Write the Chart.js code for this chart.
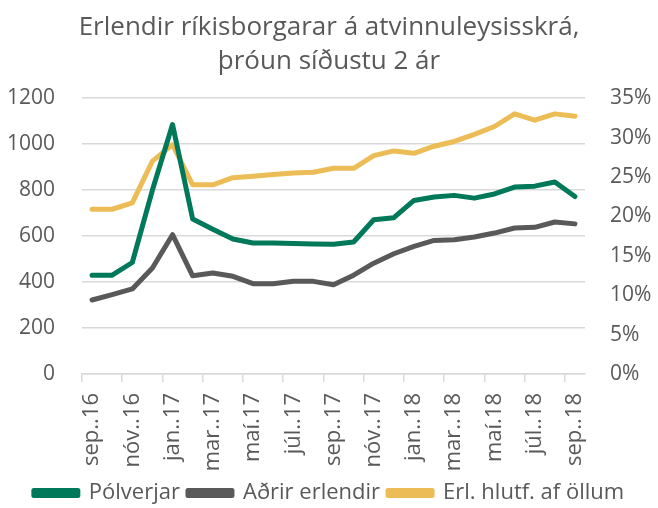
<!DOCTYPE html>
<html>
<head>
<meta charset="utf-8">
<script src="https://cdn.jsdelivr.net/npm/chart.js@4"></script>
<style>
  html, body { margin: 0; padding: 0; background: #fff; }
  #wrap { width: 658px; height: 508px; }
</style>
</head>
<body>
<div id="wrap"><canvas id="atvChart"></canvas></div>
<script>
// Months, sep 2016 - sep 2018 (only every other one gets a label)
var months = [
  "sep..16", "okt..16", "nóv..16", "des..16", "jan..17", "feb..17", "mar..17", "apr..17",
  "maí.17", "jún..17", "júl..17", "ágú..17", "sep..17", "okt..17", "nóv..17", "des..17",
  "jan..18", "feb..18", "mar..18", "apr..18", "maí.18", "jún..18", "júl..18", "ágú..18", "sep..18"
];
var polverjar = [430, 430, 485, 800, 1085, 674, 630, 587, 570, 570, 568, 566, 564,
                 574, 671, 680, 755, 770, 777, 765, 783, 813, 817, 835, 772];
var adrir = [322, 345, 370, 461, 606, 427, 439, 425, 393, 393, 403, 403, 388,
             430, 482, 523, 555, 581, 584, 596, 613, 635, 638, 661, 653];
var hlutfall = [20.9, 20.9, 21.7, 27.0, 29.1, 24.0, 24.0, 24.9, 25.1, 25.3, 25.5, 25.6, 26.1,
                26.1, 27.7, 28.3, 28.0, 28.9, 29.5, 30.4, 31.4, 33.0, 32.2, 33.0, 32.7];

var textColor = '#595959';
var gridColor = '#d9d9d9';
var fontFamily = '"Open Sans", "Noto Sans", sans-serif';

Chart.defaults.font.family = fontFamily;
Chart.defaults.color = textColor;

var ctx = document.getElementById("atvChart");
var atvChart = new Chart(ctx, {
  type: 'line',
  data: {
    labels: months,
    datasets: [
      {
        label: "Pólverjar",
        data: polverjar,
        borderColor: "rgb(0, 120, 90)",
        backgroundColor: "rgb(0, 120, 90)",
        yAxisID: 'y'
      },
      {
        label: "Aðrir erlendir",
        data: adrir,
        borderColor: "rgb(89, 89, 89)",
        backgroundColor: "rgb(89, 89, 89)",
        yAxisID: 'y'
      },
      {
        label: "Erl. hlutf. af öllum",
        data: hlutfall,
        borderColor: "rgb(236, 188, 86)",
        backgroundColor: "rgb(236, 188, 86)",
        yAxisID: 'y1'
      }
    ]
  },
  options: {
    responsive: true,
    maintainAspectRatio: false,
    animation: false,
    // legend sits a bit lower than Chart.js puts it by default
    layout: { padding: { top: 0, left: 0, right: 0, bottom: -6 } },
    elements: {
      line: { borderWidth: 5, tension: 0, borderCapStyle: 'round', borderJoinStyle: 'round' },
      point: { radius: 0, hoverRadius: 0 }
    },
    plugins: {
      title: {
        display: true,
        text: ["Erlendir ríkisborgarar á atvinnuleysisskrá,", "þróun síðustu 2 ár"],
        color: textColor,
        font: { size: 26, weight: 'normal', lineHeight: 1.31 },
        padding: { top: 11, bottom: 19 }
      },
      legend: {
        position: 'bottom',
        labels: {
          color: textColor,
          font: { size: 22 },
          boxWidth: 44,
          boxHeight: 5,
          padding: 8
        }
      },
      tooltip: { enabled: false }
    },
    scales: {
      x: {
        offset: true,
        grid: {
          offset: true,
          drawOnChartArea: false,
          drawTicks: true,
          tickLength: 8,
          lineWidth: 1.5,
          color: function (c) { return c.index % 2 === 0 ? gridColor : 'rgba(0,0,0,0)'; }
        },
        border: { display: true, color: gridColor, width: 1.5 },
        ticks: {
          autoSkip: false,
          maxRotation: 90,
          minRotation: 90,
          font: { size: 22 },
          color: textColor,
          padding: 11,
          callback: function (val, i) { return i % 2 === 0 ? this.getLabelForValue(val) : ''; }
        },
        afterFit: function (scale) { scale.height = 100; }
      },
      y: {
        position: 'left',
        min: 0,
        max: 1200,
        ticks: {
          stepSize: 200,
          font: { size: 21 },
          color: textColor,
          padding: 27,
          callback: function (v) { return String(v); }
        },
        grid: { color: gridColor, lineWidth: 1.5, drawTicks: false },
        border: { display: false },
        afterFit: function (scale) { scale.width = 82; }
      },
      y1: {
        position: 'right',
        min: 0,
        max: 35,
        ticks: {
          stepSize: 5,
          font: { size: 21 },
          color: textColor,
          padding: 25,
          callback: function (v) { return v + '%'; }
        },
        grid: { drawOnChartArea: false, drawTicks: false },
        border: { display: false },
        afterFit: function (scale) { scale.width = 73; }
      }
    }
  }
});
</script>
</body>
</html>
